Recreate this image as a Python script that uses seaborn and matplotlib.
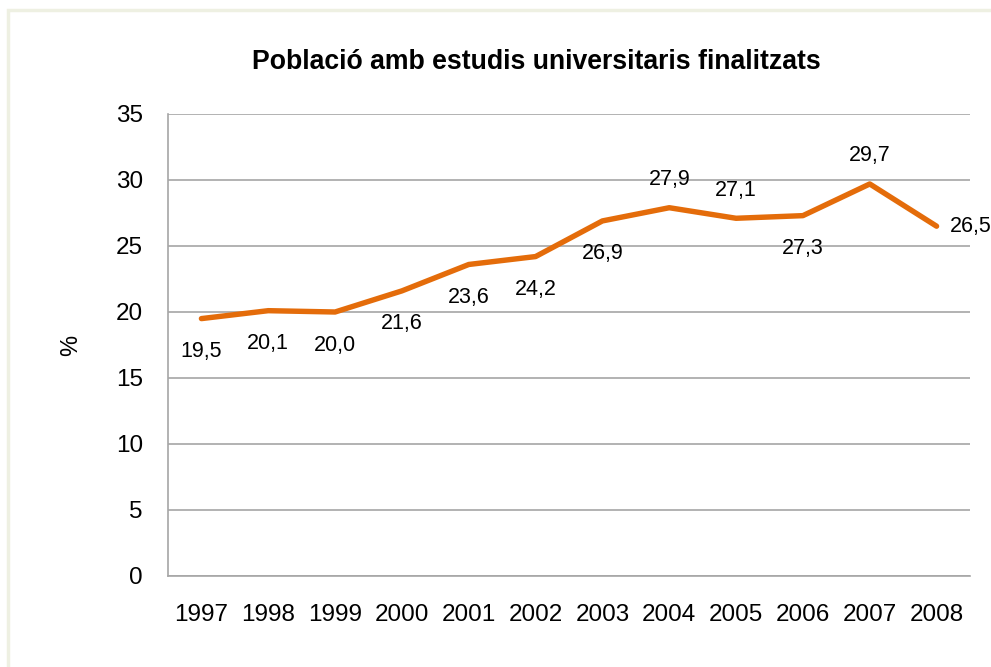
import matplotlib
matplotlib.use("Agg")
import matplotlib.pyplot as plt
import seaborn as sns
import pandas as pd
from matplotlib.patches import Rectangle

years = [1997, 1998, 1999, 2000, 2001, 2002, 2003, 2004, 2005, 2006, 2007, 2008]
values = [19.5, 20.1, 20.0, 21.6, 23.6, 24.2, 26.9, 27.9, 27.1, 27.3, 29.7, 26.5]
label_pos = ["below", "below", "below", "below", "below", "below", "below",
             "above", "above", "below", "above", "right"]
yticks = [0, 5, 10, 15, 20, 25, 30, 35]
title = "Població amb estudis universitaris finalitzats"
ylabel = "%"

sns.set_theme(style="white")
plt.rcParams['font.family'] = ['Liberation Sans', 'DejaVu Sans']
plt.rcParams['text.color'] = 'black'
plt.rcParams['axes.labelcolor'] = 'black'

df = pd.DataFrame({"year": years, "value": values})

fig = plt.figure(figsize=(9.91, 6.67), dpi=100)
ax = fig.add_axes([168/991, 1-576/667, (970-168)/991, (576-114)/667])

# figure border (top/left visible)
fig.patches.append(Rectangle((8/991, -0.1), 1.2, 1-10/667+0.1, transform=fig.transFigure,
                             fill=False, edgecolor="#EEF0E2", linewidth=2.5, zorder=0))

sns.lineplot(data=df, x="year", y="value", ax=ax, color="#E46C0A", linewidth=3.9,
             solid_capstyle="round", solid_joinstyle="round", zorder=3)

ax.set_xlim(1996.5, 2008.5)
ax.set_ylim(0, 35)
ax.set_yticks(yticks)
ax.set_yticklabels([str(t) for t in yticks], fontsize=17.5)
ax.set_xticks(years)
ax.set_xticklabels([str(y) for y in years], fontsize=17.5)
ax.tick_params(axis="y", pad=18, length=0, colors="black")
ax.tick_params(axis="x", pad=20, length=0, colors="black")
ax.grid(axis="y", color="#A6A6A6", linewidth=1.2)
ax.set_axisbelow(True)
for s in ["top", "right"]:
    ax.spines[s].set_visible(False)
for s in ["left", "bottom"]:
    ax.spines[s].set_color("#A6A6A6")
    ax.spines[s].set_linewidth(1.2)

ax.set_xlabel("")
ax.set_ylabel(ylabel, fontsize=17, color="black")
ax.yaxis.set_label_coords(-86/802, 0.5)

for x, v, p in zip(years, values, label_pos):
    txt = f"{v:.1f}".replace(".", ",")
    if p == "below":
        ax.annotate(txt, (x, v), xytext=(0, -33), textcoords="offset pixels",
                    ha="center", va="center", fontsize=15.5, color="black")
    elif p == "above":
        ax.annotate(txt, (x, v), xytext=(0, 28), textcoords="offset pixels",
                    ha="center", va="center", fontsize=15.5, color="black")
    else:
        ax.annotate(txt, (x, v), xytext=(13, 0), textcoords="offset pixels",
                    ha="left", va="center", fontsize=15.5, color="black",
                    annotation_clip=False)

fig.text(536/991, 1-62/667, title, ha="center", va="center", fontsize=19.2,
         fontweight="bold", color="black")

fig.savefig("out.png", dpi=100)
